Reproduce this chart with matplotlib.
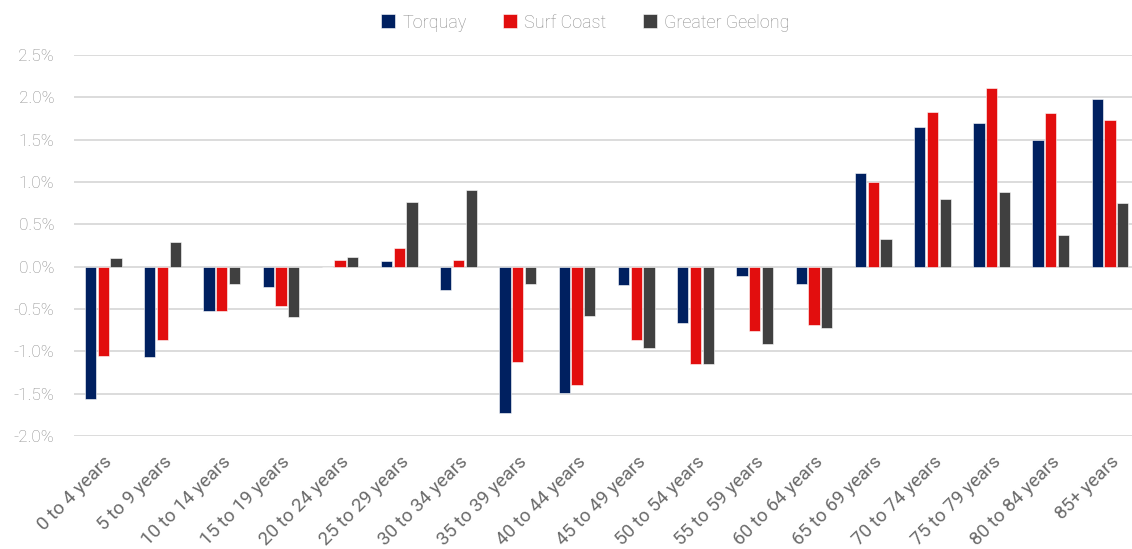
import matplotlib
matplotlib.use("Agg")
import matplotlib.pyplot as plt
import numpy as np
from matplotlib.ticker import FuncFormatter

# Change in share of population by age group (percentage points)
age_groups = [
    "0 to 4 years", "5 to 9 years", "10 to 14 years", "15 to 19 years",
    "20 to 24 years", "25 to 29 years", "30 to 34 years", "35 to 39 years",
    "40 to 44 years", "45 to 49 years", "50 to 54 years", "55 to 59 years",
    "60 to 64 years", "65 to 69 years", "70 to 74 years", "75 to 79 years",
    "80 to 84 years", "85+ years",
]
torquay = [-1.57, -1.07, -0.52, -0.24, 0.00, 0.06, -0.28, -1.73, -1.49,
           -0.22, -0.67, -0.11, -0.20, 1.11, 1.65, 1.69, 1.49, 1.98]
surf_coast = [-1.06, -0.87, -0.53, -0.47, 0.08, 0.22, 0.08, -1.13, -1.40,
              -0.87, -1.15, -0.76, -0.69, 1.00, 1.82, 2.11, 1.81, 1.73]
greater_geelong = [0.10, 0.29, -0.20, -0.59, 0.11, 0.76, 0.91, -0.20, -0.58,
                   -0.96, -1.15, -0.91, -0.72, 0.32, 0.80, 0.88, 0.37, 0.75]
series_names = ["Torquay", "Surf Coast", "Greater Geelong"]
y_ticks = [-2.0, -1.5, -1.0, -0.5, 0.0, 0.5, 1.0, 1.5, 2.0, 2.5]

colors = ["#002060", "#E20E0E", "#404040"]
grey_text = "#8C8C8C"
dark_text = "#6A6A6A"
plt.rcParams["font.family"] = ["Roboto", "DejaVu Sans"]

fig = plt.figure(figsize=(11.32, 5.49), dpi=100)
ax = fig.add_axes([0.065, 0.206, 0.935, 0.694])

x = np.arange(len(age_groups))
width = 0.19
step = 0.215
for i, (vals, name, col) in enumerate(zip([torquay, surf_coast, greater_geelong],
                                          series_names, colors)):
    ax.bar(x + (i - 1) * step, vals, width, color=col, label=name,
           edgecolor="white", linewidth=0.4, zorder=3)

ax.set_xlim(-0.5, 17.37)
ax.set_ylim(-2.0, 2.5)
ax.set_yticks(y_ticks)
ax.yaxis.set_major_formatter(FuncFormatter(lambda v, _: f"{v:.1f}%"))
ax.grid(axis="y", color="#D9D9D9", linewidth=1.3, zorder=0)
ax.set_axisbelow(True)
for s in ax.spines.values():
    s.set_visible(False)
ax.tick_params(axis="y", length=0, labelcolor=grey_text, labelsize=12.5, pad=14)
ax.tick_params(axis="x", length=0, labelsize=13.5, pad=12)
ax.set_xticks(x)
ax.set_xticklabels(age_groups, rotation=45, ha="right", rotation_mode="anchor",
                   fontweight="normal", color=dark_text)
for lbl in ax.get_yticklabels():
    lbl.set_fontweight("light")

leg = fig.legend(loc="upper center", bbox_to_anchor=(0.517, 1.005), ncol=3,
                 frameon=False, handlelength=0.8, handleheight=0.8,
                 handletextpad=0.4, columnspacing=2.0,
                 prop={"size": 13, "weight": "light"})
for t in leg.get_texts():
    t.set_color(grey_text)

fig.savefig("out.png", dpi=100)
